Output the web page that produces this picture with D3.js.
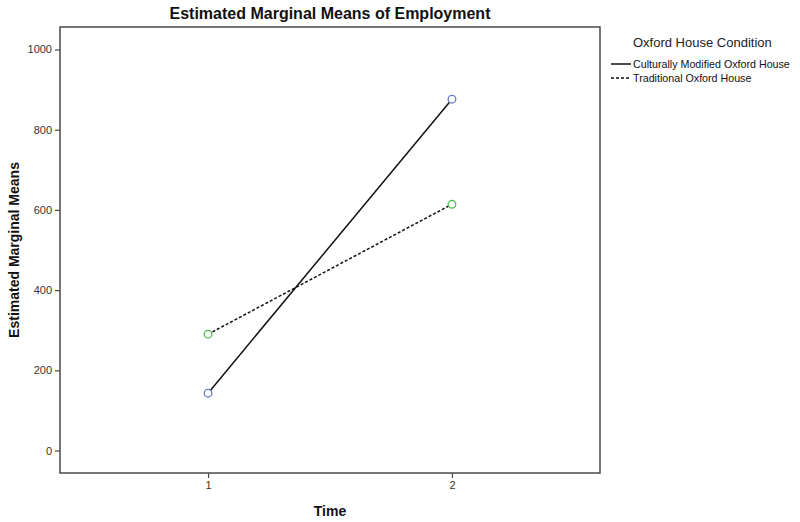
<!DOCTYPE html>
<html><head><meta charset="utf-8">
<script src="https://cdn.jsdelivr.net/npm/d3@7"></script>
<style>body{margin:0;background:#fff}svg{display:block}text{font-family:"Liberation Sans",Arial,sans-serif}</style>
</head><body><svg id="c" width="800" height="522"></svg>
<script>
const times = [1, 2];
const seriesNames = ["Culturally Modified Oxford House", "Traditional Oxford House"];
const culturallyModified = [143, 876];
const traditional = [290, 614];
const yTicks = [0, 200, 400, 600, 800, 1000];
const xTicks = [1, 2];

const svg = d3.select("#c");
const L = 60, R = 600, T = 27, B = 473;
const x = d3.scaleLinear().domain([0.393, 2.607]).range([L, R]);
const y = d3.scaleLinear().domain([-56, 1056]).range([B, T]);

svg.append("rect").attr("x", L).attr("y", T).attr("width", R - L).attr("height", B - T)
  .attr("fill", "#fff").attr("stroke", "#4a4a4a").attr("stroke-width", 1.5);

const ya = svg.append("g").attr("transform", `translate(${L},0)`)
  .call(d3.axisLeft(y).tickValues(yTicks).tickSize(5).tickPadding(3).tickFormat(d3.format("d")));
ya.select(".domain").remove();
ya.selectAll("line").attr("stroke", "#4a4a4a").attr("stroke-width", 1.2);
ya.selectAll("text").attr("font-size", 11).attr("fill", "#333");

const xa = svg.append("g").attr("transform", `translate(0,${B})`)
  .call(d3.axisBottom(x).tickValues(xTicks).tickSize(5).tickPadding(3).tickFormat(d3.format("d")));
xa.select(".domain").remove();
xa.selectAll("line").attr("stroke", "#4a4a4a").attr("stroke-width", 1.2);
xa.selectAll("text").attr("font-size", 11).attr("fill", "#333");

const line = d3.line().x((d, i) => x(times[i])).y(d => y(d));
svg.append("path").datum(culturallyModified).attr("d", line).attr("fill", "none")
  .attr("stroke", "#111").attr("stroke-width", 1.5);
svg.append("path").datum(traditional).attr("d", line).attr("fill", "none")
  .attr("stroke", "#111").attr("stroke-width", 1.5).attr("stroke-dasharray", "3,2");

const colors = ["#6a7bc0", "#55bb55"];
[culturallyModified, traditional].forEach((s, k) => {
  svg.selectAll(null).data(s).enter().append("circle")
    .attr("cx", (d, i) => x(times[i])).attr("cy", d => y(d)).attr("r", 3.8)
    .attr("fill", "#fff").attr("stroke", colors[k]).attr("stroke-width", 1.3);
});

svg.append("text").attr("x", 330).attr("y", 19).attr("text-anchor", "middle")
  .attr("font-size", 16).attr("font-weight", "bold").attr("fill", "#111")
  .text("Estimated Marginal Means of Employment");
svg.append("text").attr("x", 330).attr("y", 516).attr("text-anchor", "middle")
  .attr("font-size", 14).attr("font-weight", "bold").attr("fill", "#111").text("Time");
svg.append("text").attr("transform", "translate(19,250) rotate(-90)").attr("text-anchor", "middle")
  .attr("font-size", 14).attr("font-weight", "bold").attr("fill", "#111").text("Estimated Marginal Means");

svg.append("text").attr("x", 633).attr("y", 47).attr("font-size", 13).attr("fill", "#222")
  .text("Oxford House Condition");
seriesNames.forEach((n, i) => {
  const yy = 64 + i * 14;
  svg.append("line").attr("x1", 611).attr("x2", 631).attr("y1", yy).attr("y2", yy)
    .attr("stroke", "#111").attr("stroke-width", 1.5).attr("stroke-dasharray", i ? "3,2" : null);
  svg.append("text").attr("x", 633).attr("y", yy + 4).attr("font-size", 10.7).attr("fill", "#111").text(n);
});
</script></body></html>
